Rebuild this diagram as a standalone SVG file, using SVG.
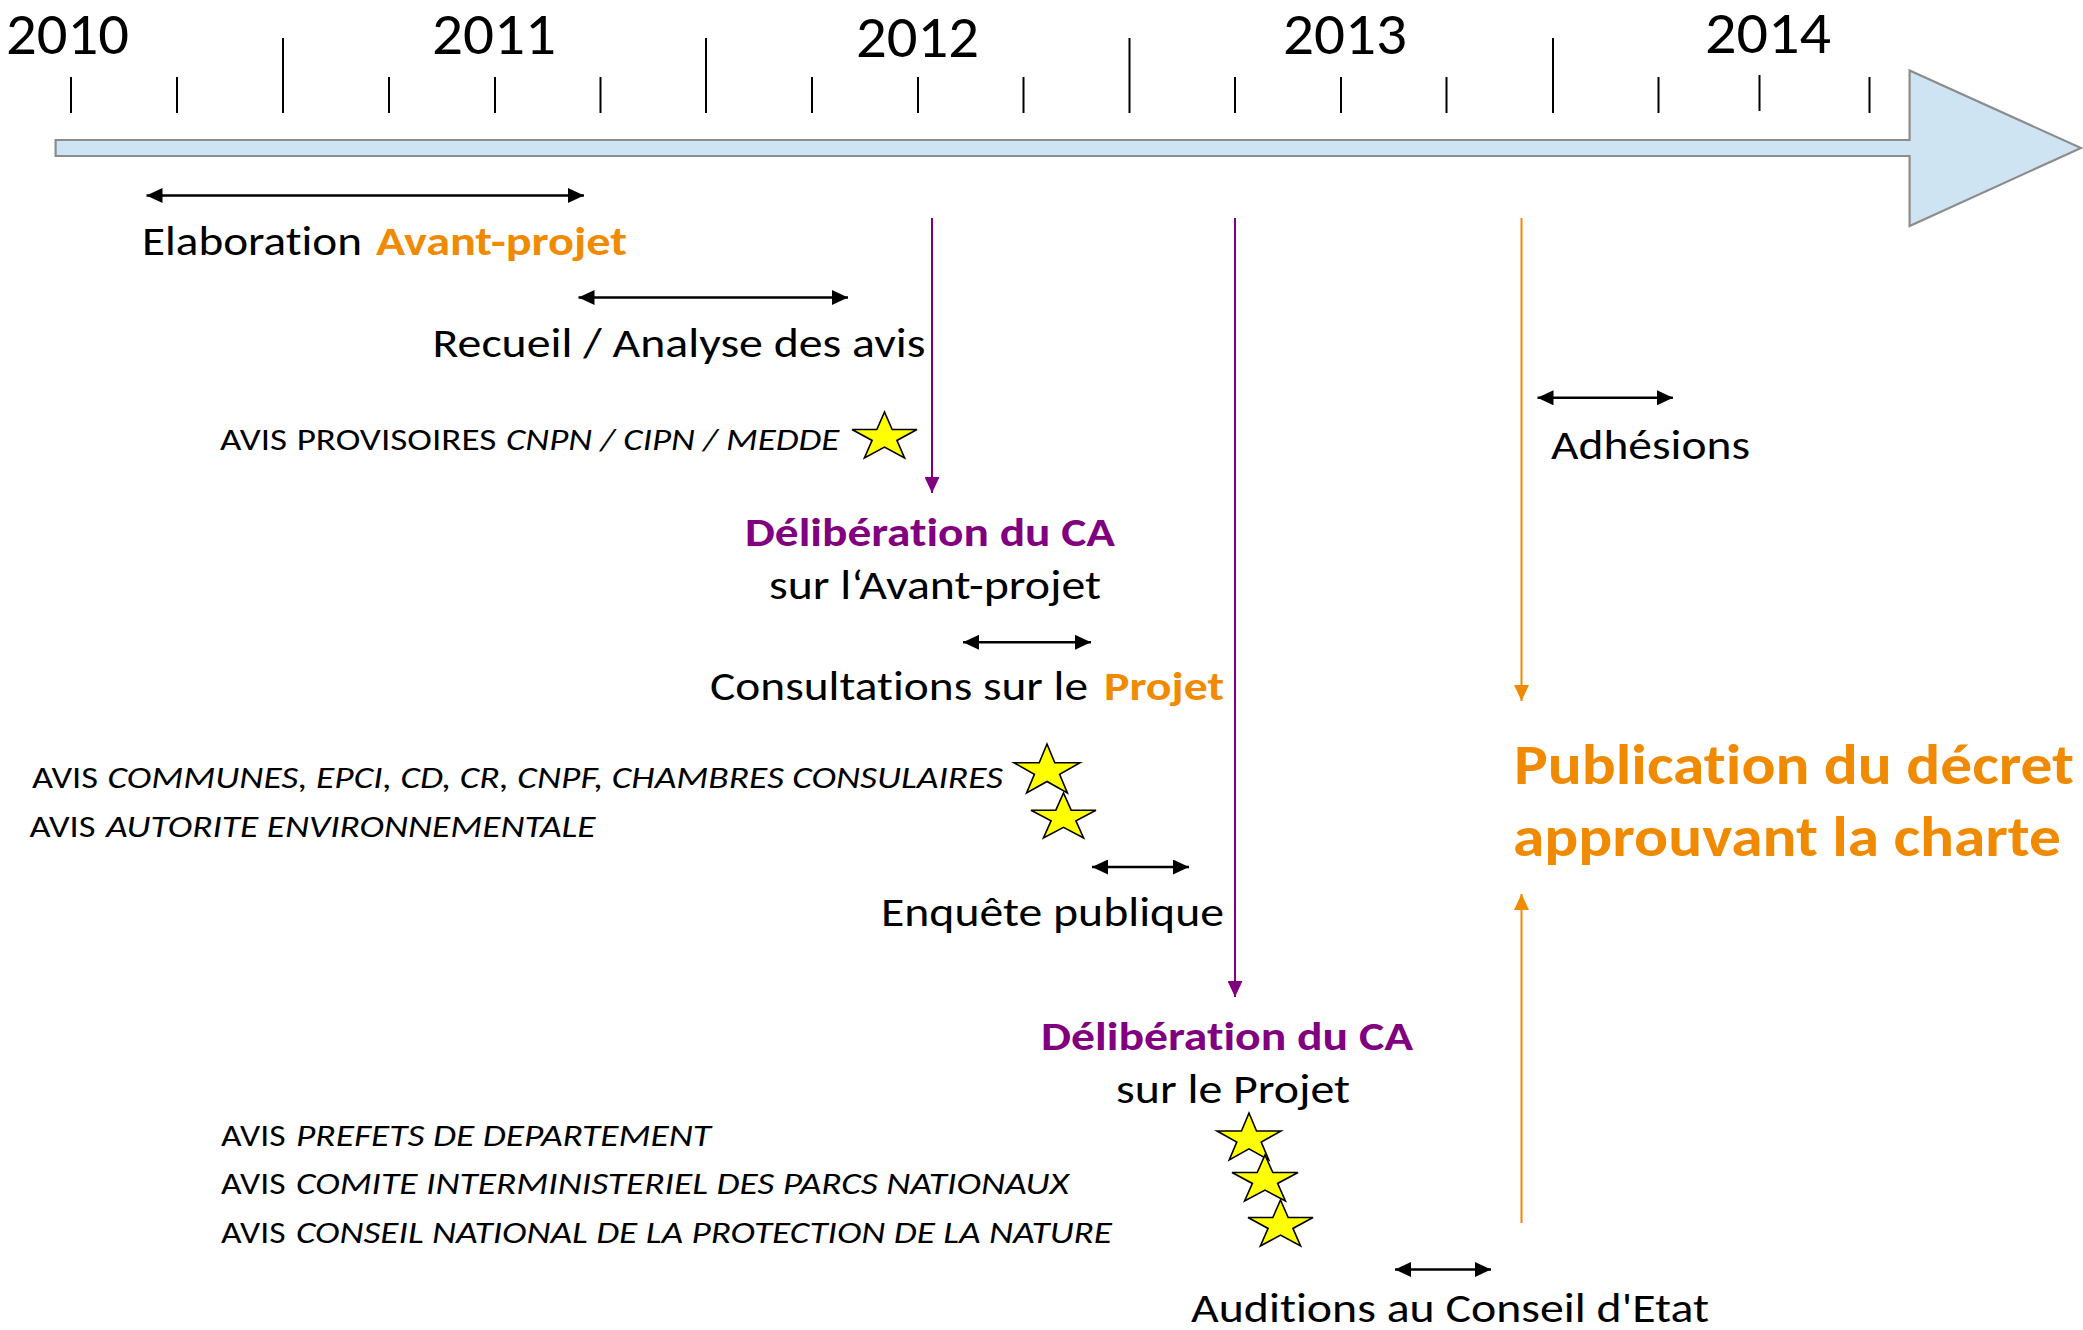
<svg xmlns="http://www.w3.org/2000/svg" xmlns:xlink="http://www.w3.org/1999/xlink" width="2083" height="1330" viewBox="0 0 2083 1330">
<style>
text{font-family:Carlito,Lato,"Open Sans",sans-serif;fill:#000;font-variant-ligatures:none}
.yr{font-size:60px}
.lb{font-size:41px}
.sm{font-size:31px}
.it{font-style:italic}
.bo{font-weight:bold}
.or{fill:#F08A00}
.pu{fill:#800080}
.tick{stroke:#000;stroke-width:2}
.dbl{stroke:#000;stroke-width:2.5;fill:none;marker-start:url(#ah);marker-end:url(#ah)}
.vp{stroke:#800080;stroke-width:2;fill:none;marker-end:url(#ahp)}
.vo{stroke:#F08A00;stroke-width:2;fill:none;marker-end:url(#aho)}
.star{fill:#FFFF00;stroke:#000;stroke-width:1.6;vector-effect:non-scaling-stroke}
</style>
<defs>
<marker id="ah" markerUnits="userSpaceOnUse" markerWidth="16" markerHeight="15" refX="16" refY="7.5" orient="auto-start-reverse"><path d="M0,0 L16,7.5 L0,15 Z" fill="#000"/></marker>
<marker id="ahp" markerUnits="userSpaceOnUse" markerWidth="16" markerHeight="15" refX="16" refY="7.5" orient="auto"><path d="M0,0 L16,7.5 L0,15 Z" fill="#800080"/></marker>
<marker id="aho" markerUnits="userSpaceOnUse" markerWidth="16" markerHeight="15" refX="16" refY="7.5" orient="auto"><path d="M0,0 L16,7.5 L0,15 Z" fill="#F08A00"/></marker>
<polygon id="star" class="star" points="0.5,0 0.618,0.382 1,0.382 0.691,0.618 0.809,1 0.5,0.764 0.191,1 0.309,0.618 0,0.382 0.382,0.382"/>
</defs>
<rect width="2083" height="1330" fill="#fff"/>

<g id="timeline">
<path d="M55.6,140 H1909.6 V70.5 L2081,148 L1909.6,226 V156 H55.6 Z" fill="#CFE4F2" stroke="#8C8C8C" stroke-width="2.2"/>
<g id="ticks">
<line class="tick" x1="71" y1="77" x2="71" y2="113"/>
<line class="tick" x1="177" y1="77" x2="177" y2="113"/>
<line class="tick" x1="283" y1="38" x2="283" y2="113"/>
<line class="tick" x1="389" y1="77" x2="389" y2="113"/>
<line class="tick" x1="495" y1="77" x2="495" y2="113"/>
<line class="tick" x1="600.5" y1="77" x2="600.5" y2="113"/>
<line class="tick" x1="706" y1="38" x2="706" y2="113"/>
<line class="tick" x1="812" y1="77" x2="812" y2="113"/>
<line class="tick" x1="918" y1="77" x2="918" y2="113"/>
<line class="tick" x1="1023.5" y1="77" x2="1023.5" y2="113"/>
<line class="tick" x1="1129.5" y1="38" x2="1129.5" y2="113"/>
<line class="tick" x1="1235" y1="77" x2="1235" y2="113"/>
<line class="tick" x1="1341" y1="77" x2="1341" y2="113"/>
<line class="tick" x1="1446.5" y1="77" x2="1446.5" y2="113"/>
<line class="tick" x1="1553" y1="38" x2="1553" y2="113"/>
<line class="tick" x1="1658.5" y1="77" x2="1658.5" y2="113"/>
<line class="tick" x1="1759.5" y1="75" x2="1759.5" y2="111" stroke-width="3"/>
<line class="tick" x1="1869.5" y1="77" x2="1869.5" y2="113"/>
</g>
<g id="years">
<text class="yr" x="6" y="54" textLength="123" lengthAdjust="spacingAndGlyphs">2010</text>
<text class="yr" x="432" y="54" textLength="124" lengthAdjust="spacingAndGlyphs">2011</text>
<text class="yr" x="856" y="56.7" textLength="123" lengthAdjust="spacingAndGlyphs">2012</text>
<text class="yr" x="1283" y="54.3" textLength="124" lengthAdjust="spacingAndGlyphs">2013</text>
<text class="yr" x="1705" y="53.3" textLength="126" lengthAdjust="spacingAndGlyphs">2014</text>
</g>
</g>

<g id="connectors">
<line class="dbl" x1="146.5" y1="195.5" x2="584" y2="195.5"/>
<line class="dbl" x1="578.5" y1="297.5" x2="848" y2="297.5"/>
<line class="dbl" x1="963" y1="642.3" x2="1091" y2="642.3"/>
<line class="dbl" x1="1092" y1="867" x2="1189" y2="867"/>
<line class="dbl" x1="1395" y1="1269.5" x2="1491" y2="1269.5"/>
<line class="dbl" x1="1537.5" y1="397.8" x2="1673" y2="397.8"/>
<line class="vp" x1="932" y1="218" x2="932" y2="493"/>
<line class="vp" x1="1235" y1="218" x2="1235" y2="997"/>
<line class="vo" x1="1521.5" y1="218" x2="1521.5" y2="701"/>
<line class="vo" x1="1521.5" y1="1223" x2="1521.5" y2="894"/>
</g>

<g id="elaboration">
<text class="lb" x="142" y="255" textLength="220" lengthAdjust="spacingAndGlyphs">Elaboration</text>
<text class="lb bo or" x="376" y="255" textLength="251" lengthAdjust="spacingAndGlyphs">Avant-projet</text>
</g>
<g id="recueil">
<text class="lb" x="432.5" y="357" textLength="493" lengthAdjust="spacingAndGlyphs">Recueil / Analyse des avis</text>
</g>
<g id="avis-provisoires">
<text class="sm" x="220" y="450" textLength="67" lengthAdjust="spacingAndGlyphs">AVIS</text>
<text class="sm" x="296.7" y="450" textLength="199.6" lengthAdjust="spacingAndGlyphs">PROVISOIRES</text>
<text class="sm it" x="506" y="450" textLength="333.4" lengthAdjust="spacingAndGlyphs">CNPN / CIPN / MEDDE</text>
<use href="#star" transform="translate(852,412) scale(65,46)"/>
</g>
<g id="deliberation-1">
<text class="lb bo pu" x="745" y="546" textLength="370" lengthAdjust="spacingAndGlyphs">Délibération du CA</text>
<text class="lb" x="769" y="599" textLength="332" lengthAdjust="spacingAndGlyphs">sur l‘Avant-projet</text>
</g>
<g id="consultations">
<text class="lb" x="710" y="700" textLength="378" lengthAdjust="spacingAndGlyphs">Consultations sur le</text>
<text class="lb bo or" x="1104" y="700" textLength="120" lengthAdjust="spacingAndGlyphs">Projet</text>
</g>
<g id="avis-communes">
<text class="sm" x="32" y="788.3" textLength="66" lengthAdjust="spacingAndGlyphs">AVIS</text>
<text class="sm it" x="107.6" y="788.3" textLength="895.4" lengthAdjust="spacingAndGlyphs">COMMUNES, EPCI, CD, CR, CNPF, CHAMBRES CONSULAIRES</text>
<use href="#star" transform="translate(1014,744) scale(66,49)"/>
</g>
<g id="avis-ae">
<text class="sm" x="29.5" y="836.5" textLength="66" lengthAdjust="spacingAndGlyphs">AVIS</text>
<text class="sm it" x="106" y="836.5" textLength="489.5" lengthAdjust="spacingAndGlyphs">AUTORITE ENVIRONNEMENTALE</text>
<use href="#star" transform="translate(1031,793) scale(65,45)"/>
</g>
<g id="enquete">
<text class="lb" x="881" y="926" textLength="343" lengthAdjust="spacingAndGlyphs">Enquête publique</text>
</g>
<g id="deliberation-2">
<text class="lb bo pu" x="1041" y="1050" textLength="372" lengthAdjust="spacingAndGlyphs">Délibération du CA</text>
<text class="lb" x="1116" y="1103" textLength="234" lengthAdjust="spacingAndGlyphs">sur le Projet</text>
</g>
<g id="avis-prefets">
<text class="sm" x="221" y="1145.5" textLength="64.5" lengthAdjust="spacingAndGlyphs">AVIS</text>
<text class="sm it" x="296" y="1145.5" textLength="415" lengthAdjust="spacingAndGlyphs">PREFETS DE DEPARTEMENT</text>
<use href="#star" transform="translate(1217,1113) scale(64,47)"/>
</g>
<g id="avis-cipn">
<text class="sm" x="221" y="1193.5" textLength="64.5" lengthAdjust="spacingAndGlyphs">AVIS</text>
<text class="sm it" x="296" y="1193.5" textLength="773" lengthAdjust="spacingAndGlyphs">COMITE INTERMINISTERIEL DES PARCS NATIONAUX</text>
<use href="#star" transform="translate(1232,1155) scale(66,46)"/>
</g>
<g id="avis-cnpn">
<text class="sm" x="221" y="1243" textLength="64.5" lengthAdjust="spacingAndGlyphs">AVIS</text>
<text class="sm it" x="296" y="1243" textLength="816" lengthAdjust="spacingAndGlyphs">CONSEIL NATIONAL DE LA PROTECTION DE LA NATURE</text>
<use href="#star" transform="translate(1248,1200) scale(65,46)"/>
</g>
<g id="auditions">
<text class="lb" x="1191" y="1322" textLength="518" lengthAdjust="spacingAndGlyphs">Auditions au Conseil d'Etat</text>
</g>
<g id="adhesions">
<text class="lb" x="1551" y="459" textLength="199" lengthAdjust="spacingAndGlyphs">Adhésions</text>
</g>
<g id="publication">
<text class="bo or" x="1514" y="784" style="font-size:57px" textLength="560" lengthAdjust="spacingAndGlyphs">Publication du décret</text>
<text class="bo or" x="1513" y="856" style="font-size:57px" textLength="548" lengthAdjust="spacingAndGlyphs">approuvant la charte</text>
</g>
</svg>
